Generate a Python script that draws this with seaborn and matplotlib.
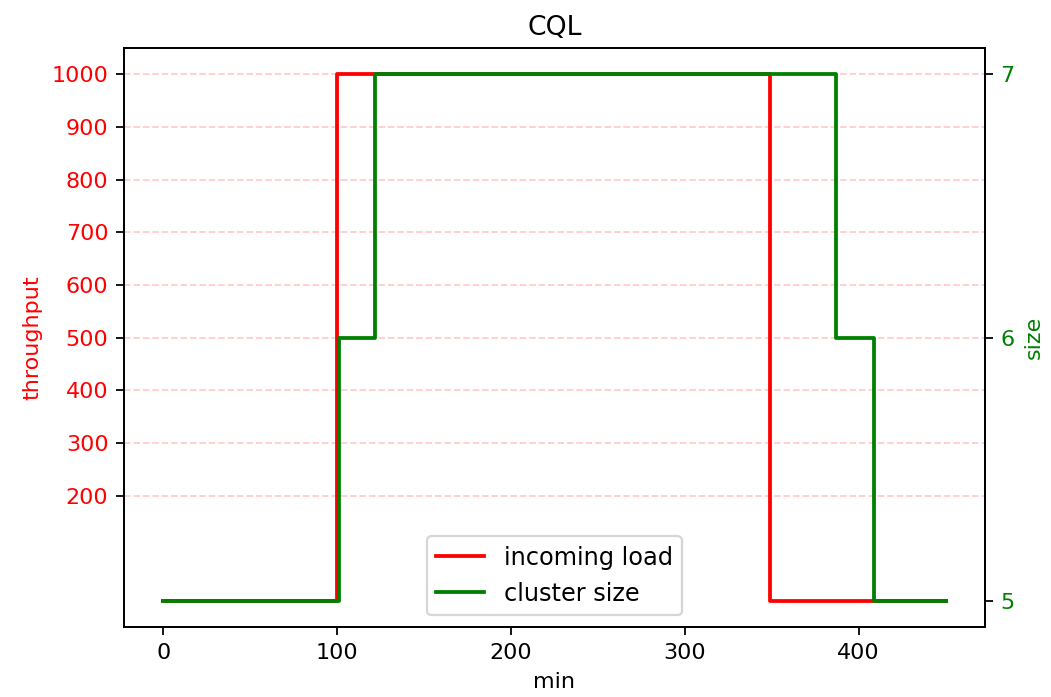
import matplotlib
matplotlib.use('Agg')
import matplotlib.pyplot as plt
import seaborn as sns

# incoming load (throughput) over time
load_time = [0, 100, 349, 450]
load_values = [0, 1000, 0, 0]

# cluster size over time
size_time = [0, 101, 122, 387, 409, 450]
size_values = [5, 6, 7, 6, 5, 5]

left_ticks = [200, 300, 400, 500, 600, 700, 800, 900, 1000]
right_ticks = [5, 6, 7]

fig, ax1 = plt.subplots(figsize=(1051 / 160, 697 / 160), dpi=160)
fig.subplots_adjust(left=0.118, right=0.937, top=0.931, bottom=0.1)

sns.lineplot(x=load_time, y=load_values, ax=ax1, color='red', drawstyle='steps-post',
             estimator=None, sort=False, label='incoming load', legend=False, linewidth=1.7)
ax1.set_yticks(left_ticks)
ax1.set_ylabel('throughput', color='red')
ax1.tick_params(axis='y', labelcolor='red')
ax1.set_xlabel('min')
ax1.grid(axis='y', color='red', linestyle='--', alpha=0.2, linewidth=0.8)
ax1.set_title('CQL')

ax2 = ax1.twinx()
sns.lineplot(x=size_time, y=size_values, ax=ax2, color='green', drawstyle='steps-post',
             estimator=None, sort=False, label='cluster size', legend=False, linewidth=1.7)
ax2.set_yticks(right_ticks)
ax2.set_ylabel('size', color='green')
ax2.tick_params(axis='y', labelcolor='green')

h1, l1 = ax1.get_legend_handles_labels()
h2, l2 = ax2.get_legend_handles_labels()
ax2.legend(h1 + h2, l1 + l2, loc='lower center', fontsize=10.8)

fig.savefig('out.png')
